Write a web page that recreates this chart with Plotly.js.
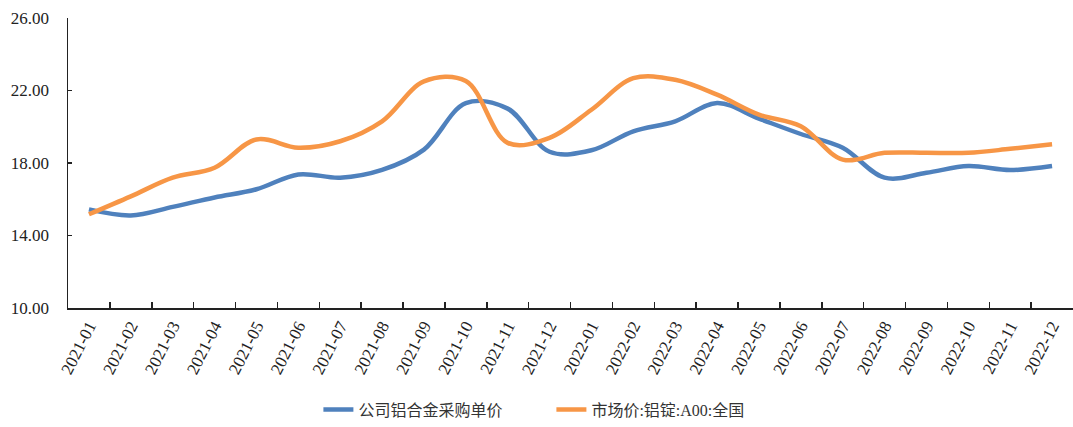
<!DOCTYPE html>
<html>
<head>
<meta charset="utf-8">
<script src="https://cdn.plot.ly/plotly-3.0.1.min.js"></script>
<style>
  html, body { margin: 0; padding: 0; background: #fff; }
  #chart { width: 1073px; height: 427px; }
</style>
</head>
<body>
<div id="chart"></div>
<script>
// Monthly categories, 2021-01 .. 2022-12
const months = [
  '2021-01','2021-02','2021-03','2021-04','2021-05','2021-06',
  '2021-07','2021-08','2021-09','2021-10','2021-11','2021-12',
  '2022-01','2022-02','2022-03','2022-04','2022-05','2022-06',
  '2022-07','2022-08','2022-09','2022-10','2022-11','2022-12'
];

// Company aluminium-alloy purchase unit price
const purchasePrice = [
  15.44, 15.11, 15.58, 16.10, 16.55, 17.37,
  17.19, 17.62, 18.74, 21.30, 21.00, 18.62,
  18.70, 19.75, 20.30, 21.31, 20.45, 19.60,
  18.84, 17.19, 17.46, 17.83, 17.61, 17.83
];

// Market price: aluminium ingot A00, national
const marketPrice = [
  15.17, 16.16, 17.19, 17.74, 19.30, 18.84,
  19.20, 20.30, 22.50, 22.52, 19.11, 19.39,
  20.94, 22.68, 22.59, 21.77, 20.67, 20.03,
  18.19, 18.56, 18.56, 18.56, 18.78, 19.03
];

const seriesNames = ['公司铝合金采购单价', '市场价:铝锭:A00:全国'];
const yTicks = [10, 14, 18, 22, 26];

const serif = 'Liberation Serif, Noto Sans CJK SC, serif';

const traces = [
  {
    x: months, y: purchasePrice, name: seriesNames[0],
    type: 'scatter', mode: 'lines',
    line: { color: '#4F81BD', width: 4.5, shape: 'spline', smoothing: 1 }
  },
  {
    x: months, y: marketPrice, name: seriesNames[1],
    type: 'scatter', mode: 'lines',
    line: { color: '#F79646', width: 4.5, shape: 'spline', smoothing: 1 }
  }
];

const layout = {
  width: 1073, height: 427,
  margin: { l: 68, r: 0, t: 18, b: 117 },
  paper_bgcolor: '#fff', plot_bgcolor: '#fff',
  font: { family: serif, color: '#222' },
  showlegend: true,
  legend: {
    orientation: 'h', x: 0.481, xanchor: 'center', y: -0.35, yanchor: 'middle',
    font: { family: serif, size: 16, color: '#333' },
    entrywidth: 188, entrywidthmode: 'pixels'
  },
  xaxis: {
    type: 'category', categoryarray: months,
    showgrid: false, zeroline: false,
    showline: true, linecolor: '#222', linewidth: 1.5,
    ticks: 'inside', ticklen: 6, tickcolor: '#222', tickwidth: 1.5,
    tickson: 'boundaries',
    tickangle: -63,
    tickfont: { family: serif, size: 17, color: '#222' },
    range: [-0.5, 23.5], fixedrange: true
  },
  yaxis: {
    range: [10, 26], tickvals: yTicks, tickformat: '.2f',
    showgrid: false, zeroline: false,
    showline: true, linecolor: '#222', linewidth: 1.5,
    ticks: 'inside', ticklen: 4, tickcolor: '#222', tickwidth: 1.5,
    tickfont: { family: serif, size: 17, color: '#222' },
    ticklabelstandoff: 14,
    fixedrange: true
  }
};

Plotly.newPlot('chart', traces, layout, { staticPlot: true, displayModeBar: false });
</script>
</body>
</html>
